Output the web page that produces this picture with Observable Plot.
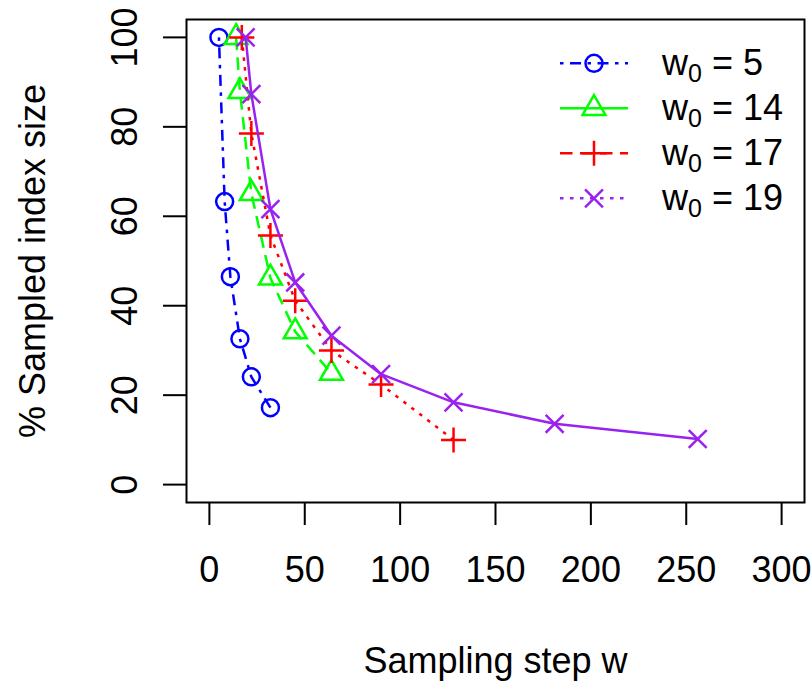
<!DOCTYPE html>
<html><head><meta charset="utf-8">
<script src="https://cdn.jsdelivr.net/npm/d3@7"></script>
<script src="https://cdn.jsdelivr.net/npm/@observablehq/plot@0.6"></script>
<style>
body{margin:0;background:#fff;}
#chart{position:relative;width:812px;height:681px;}
#chart svg{display:block;}
#legend{position:absolute;left:0;top:0;pointer-events:none;}
</style></head><body><div id="chart"></div>
<script>
// ---- data ----
const seriesW0 = [5, 14, 17, 19];
const x_w5  = [5, 8, 11, 16, 22, 32];
const y_w5  = [100, 63.3, 46.5, 32.6, 24.1, 17.2];
const x_w14 = [14, 16, 22, 32, 45, 64];
const y_w14 = [100, 87.9, 65.1, 46.2, 34.2, 24.9];
const x_w17 = [17, 22, 32, 45, 64, 90, 128];
const y_w17 = [100, 78.5, 55.7, 41.1, 30.0, 22.4, 10.0];
const x_w19 = [19, 22, 32, 45, 64, 90, 128, 181, 256];
const y_w19 = [100, 87.3, 61.6, 45.2, 33.3, 24.7, 18.4, 13.6, 10.2];
const xTicks = [0, 50, 100, 150, 200, 250, 300];
const yTicks = [0, 20, 40, 60, 80, 100];
const xLabel = "Sampling step w";
const yLabel = "% Sampled index size";

// ---- styles ----
const font = "'Liberation Sans', Arial, Helvetica, sans-serif";
const LW = 2.5;
const DOTDASH = "3.5,6.5,11,6.5", DASHED = "12.5,7.5", DOTTED = "3.5,6.5";
const styles = [
  {color: "#0000FF", dash: DOTDASH, symbol: "circle",   r: 8.5, legendDash: DOTDASH},
  {color: "#00FF00", dash: DASHED,  symbol: "triangle", r: 8.5, legendDash: null},
  {color: "#FF0000", dash: DOTTED,  symbol: "plus",     r: 8.1, legendDash: DASHED},
  {color: "#9A22EE", dash: null,    symbol: "times",    r: 8.2, legendDash: DOTTED}
];

const xs = [x_w5, x_w14, x_w17, x_w19];
const ys = [y_w5, y_w14, y_w17, y_w19];
const series = xs.map((xv, i) => xv.map((x, j) => ({x, y: ys[i][j], w0: seriesW0[i]})));

const seriesMarks = series.flatMap((data, i) => {
  const s = styles[i];
  return [
    Plot.line(data, {x: "x", y: "y", stroke: s.color, strokeWidth: LW, strokeDasharray: s.dash ?? undefined, strokeLinecap: "butt"}),
    Plot.dot(data, {x: "x", y: "y", symbol: s.symbol, r: s.r, stroke: s.color, strokeWidth: LW, fill: "none"})
  ];
});

const plot = Plot.plot({
  width: 812, height: 681,
  marginLeft: 186, marginRight: 8, marginTop: 19, marginBottom: 179,
  x: {domain: [-12, 312]},
  y: {domain: [-4, 104]},
  style: {fontFamily: font, fontSize: "36px", background: "white", color: "black"},
  marks: [
    Plot.axisX({ticks: xTicks, tickSize: 23, tickPadding: 31, tickFormat: d => String(d), strokeWidth: 2,
      fontSize: 36, label: xLabel, labelAnchor: "center", labelArrow: "none", labelOffset: 170}),
    Plot.axisY({ticks: yTicks, tickSize: 23, tickRotate: -90, tickPadding: 27, tickFormat: d => String(d), strokeWidth: 2,
      fontSize: 36, label: yLabel, labelAnchor: "center", labelArrow: "none", labelOffset: 167}),
    ...seriesMarks,
    Plot.frame({stroke: "black", strokeWidth: 2})
  ]
});
document.getElementById("chart").appendChild(plot);

// ---- legend (top right, no box) ----
const leg = d3.select("#chart").append("svg").attr("id", "legend")
  .attr("width", 812).attr("height", 681)
  .attr("font-family", font);
seriesW0.forEach((w, i) => {
  const s = styles[i];
  const cy = 63.3 + i * 45;
  const g = leg.append("g");
  g.append("line").attr("x1", 560).attr("x2", 628).attr("y1", cy).attr("y2", cy)
    .attr("stroke", s.color).attr("stroke-width", LW)
    .attr("stroke-dasharray", s.legendDash);
  const sym = {circle: d3.symbolCircle, triangle: d3.symbolTriangle, plus: d3.symbolPlus, times: d3.symbolTimes}[s.symbol];
  g.append("path").attr("transform", `translate(594,${cy})`)
    .attr("d", d3.symbol(sym, Math.PI * s.r * s.r)())
    .attr("fill", "none").attr("stroke", s.color).attr("stroke-width", LW);
  const t = g.append("text").attr("x", 662).attr("y", cy + 12).attr("font-size", 36).attr("fill", "black");
  t.append("tspan").text("w");
  t.append("tspan").attr("font-size", 25).attr("dy", 7).text("0");
  t.append("tspan").attr("dy", -7).text(" = " + w);
});
</script>
</body></html>
